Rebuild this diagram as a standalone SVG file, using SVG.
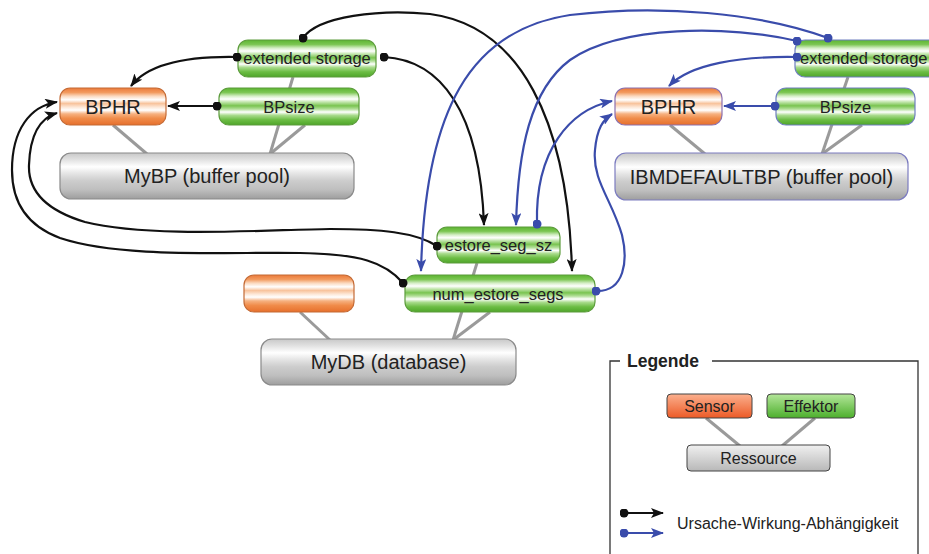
<svg xmlns="http://www.w3.org/2000/svg" width="929" height="554" viewBox="0 0 929 554">
<style>
text{font-family:"Liberation Sans",Arial,sans-serif;fill:#222}
.lnk{stroke:#9a9a9a;stroke-width:3;fill:none}
.bk{stroke:#111;stroke-width:2.2;fill:none;marker-start:url(#dotK);marker-end:url(#arrK)}
.bl{stroke:#3a4cab;stroke-width:2.2;fill:none;marker-start:url(#dotB);marker-end:url(#arrB)}
.g{fill:url(#gG);stroke:#5c9c3c;stroke-width:1.2}
.o{fill:url(#gO);stroke:#c46a35;stroke-width:1.2}
.r{fill:url(#gR);stroke:#8a8a8a;stroke-width:1.2}
.gb{fill:url(#gG);stroke:#6f7fc0;stroke-width:1.2}
.ob{fill:url(#gO);stroke:#8a70b0;stroke-width:1.2}
.rb{fill:url(#gR);stroke:#7c7cc0;stroke-width:1.2}
</style>
<defs>
<linearGradient id="gG" x1="0" y1="0" x2="0" y2="1">
<stop offset="0" stop-color="#5cb531"/><stop offset="0.12" stop-color="#7cc653"/>
<stop offset="0.22" stop-color="#d5eec6"/><stop offset="0.3" stop-color="#ffffff"/>
<stop offset="0.38" stop-color="#c0e5aa"/><stop offset="0.48" stop-color="#79c450"/>
<stop offset="0.57" stop-color="#b2df98"/><stop offset="0.65" stop-color="#ffffff"/>
<stop offset="0.74" stop-color="#a8db8b"/><stop offset="0.86" stop-color="#6cbd44"/>
<stop offset="1" stop-color="#4fa52a"/>
</linearGradient>
<linearGradient id="gO" x1="0" y1="0" x2="0" y2="1">
<stop offset="0" stop-color="#ec7a3a"/><stop offset="0.12" stop-color="#f29a5e"/>
<stop offset="0.22" stop-color="#fbd9bf"/><stop offset="0.32" stop-color="#ffffff"/>
<stop offset="0.42" stop-color="#f8c39c"/><stop offset="0.52" stop-color="#fde8d8"/>
<stop offset="0.6" stop-color="#ffffff"/><stop offset="0.7" stop-color="#f6b180"/>
<stop offset="0.82" stop-color="#f08c4a"/><stop offset="1" stop-color="#e66f2c"/>
</linearGradient>
<linearGradient id="gR" x1="0" y1="0" x2="0" y2="1">
<stop offset="0" stop-color="#c8c8c8"/><stop offset="0.15" stop-color="#e2e2e2"/>
<stop offset="0.3" stop-color="#ffffff"/><stop offset="0.45" stop-color="#e4e4e4"/>
<stop offset="0.6" stop-color="#cdcdcd"/><stop offset="0.8" stop-color="#bebebe"/>
<stop offset="1" stop-color="#9e9e9e"/>
</linearGradient>
<linearGradient id="lS" x1="0" y1="0" x2="0" y2="1">
<stop offset="0" stop-color="#fbb08e"/><stop offset="1" stop-color="#ec5a26"/>
</linearGradient>
<linearGradient id="lE" x1="0" y1="0" x2="0" y2="1">
<stop offset="0" stop-color="#b4e69a"/><stop offset="1" stop-color="#4caf2c"/>
</linearGradient>
<linearGradient id="lR" x1="0" y1="0" x2="0" y2="1">
<stop offset="0" stop-color="#f0f0f0"/><stop offset="1" stop-color="#b8b8b8"/>
</linearGradient>
<marker id="arrK" viewBox="0 0 13 10" refX="12" refY="5" markerWidth="13" markerHeight="10" markerUnits="userSpaceOnUse" orient="auto"><path d="M0,0 L13,5 L0,10 L3,5 z" fill="#111"/></marker>
<marker id="arrB" viewBox="0 0 13 10" refX="12" refY="5" markerWidth="13" markerHeight="10" markerUnits="userSpaceOnUse" orient="auto"><path d="M0,0 L13,5 L0,10 L3,5 z" fill="#3a4cab"/></marker>
<marker id="dotK" viewBox="0 0 10 10" refX="5" refY="5" markerWidth="9" markerHeight="9" markerUnits="userSpaceOnUse"><circle cx="5" cy="5" r="5" fill="#111"/></marker>
<marker id="dotB" viewBox="0 0 10 10" refX="5" refY="5" markerWidth="9" markerHeight="9" markerUnits="userSpaceOnUse"><circle cx="5" cy="5" r="5" fill="#3a4cab"/></marker>
</defs>
<rect width="929" height="554" fill="#ffffff"/>

<g id="resource-links">
<line class="lnk" x1="113" y1="125" x2="147" y2="154"/>
<line class="lnk" x1="293" y1="77" x2="270" y2="154"/>
<line class="lnk" x1="305" y1="125" x2="270" y2="154"/>
<line class="lnk" x1="670" y1="125" x2="705" y2="154"/>
<line class="lnk" x1="848" y1="77" x2="822" y2="154"/>
<line class="lnk" x1="862" y1="125" x2="822" y2="154"/>
<line class="lnk" x1="300" y1="312" x2="330" y2="340"/>
<line class="lnk" x1="477" y1="263" x2="453" y2="340"/>
<line class="lnk" x1="490" y1="312" x2="453" y2="340"/>
<line class="lnk" x1="706" y1="418" x2="740" y2="446"/>
<line class="lnk" x1="815" y1="418" x2="782" y2="446"/>
</g>

<g id="mybp"><rect class="r" x="60" y="153" width="294" height="46" rx="11"/><text x="207" y="183" font-size="20" text-anchor="middle">MyBP (buffer pool)</text></g>
<g id="ext-left"><rect class="g" x="238" y="40" width="138" height="37" rx="10"/><text x="307" y="64" font-size="16.5" text-anchor="middle">extended storage</text></g>
<g id="bphr-left"><rect class="o" x="60" y="88" width="106" height="37" rx="10"/><text x="113" y="113.5" font-size="20" text-anchor="middle">BPHR</text></g>
<g id="bpsize-left"><rect class="g" x="219" y="88" width="140" height="37" rx="10"/><text x="289" y="112.5" font-size="16.5" text-anchor="middle">BPsize</text></g>

<g id="ibmdefaultbp"><rect class="rb" x="615" y="153" width="293" height="47" rx="11"/><text x="761.5" y="183.5" font-size="20" text-anchor="middle">IBMDEFAULTBP (buffer pool)</text></g>
<g id="ext-right"><rect class="gb" x="795" y="40" width="145" height="37" rx="10"/><text x="800" y="64" font-size="16.5">extended storage</text></g>
<g id="bphr-right"><rect class="ob" x="615" y="88" width="107" height="37" rx="10"/><text x="668.5" y="113.5" font-size="20" text-anchor="middle">BPHR</text></g>
<g id="bpsize-right"><rect class="gb" x="776" y="88" width="139" height="37" rx="10"/><text x="845.5" y="112.5" font-size="16.5" text-anchor="middle">BPsize</text></g>

<g id="mydb"><rect class="r" x="261" y="339" width="255" height="46" rx="11"/><text x="388.5" y="369" font-size="20" text-anchor="middle">MyDB (database)</text></g>
<g id="sensor-db"><rect class="o" x="244" y="275" width="110" height="37" rx="10"/></g>
<g id="estore-seg-sz"><rect class="g" x="437" y="227" width="123" height="36" rx="10"/><text x="498.5" y="251" font-size="16.5" text-anchor="middle">estore_seg_sz</text></g>
<g id="num-estore-segs"><rect class="g" x="405" y="275" width="190" height="37" rx="10"/><text x="498" y="299.5" font-size="16.5" text-anchor="middle">num_estore_segs</text></g>

<g id="connectors">
<path class="bk" d="M237,57 C185,56 148,64 131,86"/>
<path class="bk" d="M217,106 L168,106"/>
<path class="bk" d="M303,38 C318,16 380,9 430,14 C520,26 568,120 572,271"/>
<path class="bk" d="M384,57 C440,60 480,110 484,225"/>
<path class="bk" d="M437,246 C415,232 380,229 330,229 C260,230 150,238 85,222 C45,210 28,190 29,165 C30,135 40,118 57,113"/>
<path class="bk" d="M403,283 C385,262 360,254 300,253 C220,252 120,258 60,238 C25,225 12,200 12,170 C12,130 30,106 57,102"/>
<path class="bl" d="M828,38 C760,13 660,4 570,15 C470,30 425,110 421,271"/>
<path class="bl" d="M797,41 C730,25 620,25 570,60 C530,90 518,150 516,225"/>
<path class="bl" d="M797,57 C740,56 690,64 669,86"/>
<path class="bl" d="M775,106 L724,106"/>
<path class="bl" d="M537,224 C535,150 570,110 612,101"/>
<path class="bl" d="M596,291 C625,292 628,260 622,235 C612,200 592,180 595,150 C597,128 603,120 612,114"/>
</g>

<g id="legend">
<path d="M620,361 L610,361 L610,560 M712,361 L918,361 L918,560" fill="none" stroke="#333" stroke-width="1.3"/>
<text x="627" y="367" font-size="17.5" font-weight="bold">Legende</text>
<g id="legend-sensor"><rect x="667" y="394" width="85" height="24" rx="4" fill="url(#lS)" stroke="#444" stroke-width="1"/><text x="709.5" y="411.5" font-size="16" text-anchor="middle">Sensor</text></g>
<g id="legend-effektor"><rect x="767" y="394" width="88" height="24" rx="4" fill="url(#lE)" stroke="#444" stroke-width="1"/><text x="811" y="411.5" font-size="16" text-anchor="middle">Effektor</text></g>
<g id="legend-ressource"><rect x="687" y="445" width="143" height="26" rx="4" fill="url(#lR)" stroke="#444" stroke-width="1"/><text x="758.5" y="463.5" font-size="16" text-anchor="middle">Ressource</text></g>
<path class="bk" d="M624,513 L663,513"/>
<path class="bl" d="M624,533 L663,533"/>
<text x="677" y="528.5" font-size="16">Ursache-Wirkung-Abhängigkeit</text>
</g>
</svg>
